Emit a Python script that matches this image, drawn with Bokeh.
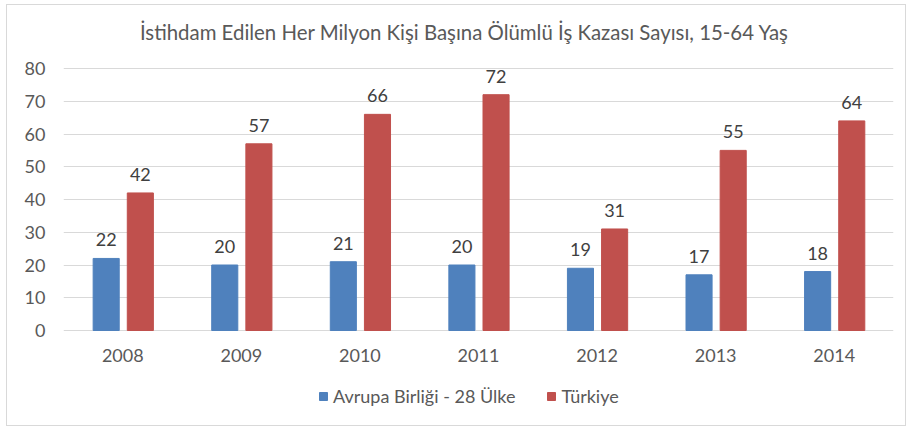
from bokeh.plotting import figure
from bokeh.models import ColumnDataSource, FactorRange, LabelSet, Label, Legend, LegendItem
from bokeh.transform import dodge
from bokeh.core.properties import value
from bokeh.embed import file_html
from bokeh.resources import INLINE

years = ["2008", "2009", "2010", "2011", "2012", "2013", "2014"]
eu28 = [22, 20, 21, 20, 19, 17, 18]
turkiye = [42, 57, 66, 72, 31, 55, 64]
series_names = ["Avrupa Birliği - 28 Ülke", "Türkiye"]
title_text = "İstihdam Edilen Her Milyon Kişi Başına Ölümlü İş Kazası Sayısı, 15-64 Yaş"
y_ticks = [0, 10, 20, 30, 40, 50, 60, 70, 80]

FONT = "Lato"
BLUE = "#4f81bd"
RED = "#c0504d"

# layout: value axis 0..80 spans 262 px; extra room above (title) and below (years, legend)
PLOT_H = 262
TOP_PAD = 63
BOT_PAD = 90
px_per_unit = PLOT_H / 80
y_lo = -BOT_PAD / px_per_unit
y_hi = 80 + TOP_PAD / px_per_unit

src = ColumnDataSource(dict(
    year=years, eu=eu28, tr=turkiye,
    eu_lbl=[str(v) for v in eu28], tr_lbl=[str(v) for v in turkiye],
))

p = figure(x_range=FactorRange(factors=years), y_range=(y_lo, y_hi),
           frame_width=830, frame_height=PLOT_H + TOP_PAD + BOT_PAD,
           output_backend="svg", toolbar_location=None,
           min_border_left=56, min_border_right=12, min_border_top=0, min_border_bottom=5)
p.margin = (5, 0, 0, 7)
p.styles = {"outline": "1px solid #d9d9d9"}

b1 = p.vbar(x=dodge("year", -0.14, range=p.x_range), top="eu", width=0.22, source=src,
            fill_color=BLUE, line_color=BLUE)
b2 = p.vbar(x=dodge("year", 0.148, range=p.x_range), top="tr", width=0.22, source=src,
            fill_color=RED, line_color=RED)

for col, lbl, off in (("eu", "eu_lbl", -0.14), ("tr", "tr_lbl", 0.148)):
    ls = LabelSet(x=dodge("year", off, range=p.x_range), y=col, text=lbl, source=src,
                  text_align="center", text_baseline="alphabetic", y_offset=12,
                  text_font=value(FONT), text_font_size="18px", text_color="#404040")
    p.add_layout(ls)

# category (year) labels under the bars
year_labels = LabelSet(x="year", y=0, text="year", source=src,
                       text_align="center", text_baseline="middle", y_offset=-24.5,
                       text_font=value(FONT), text_font_size="18px", text_color="#595959")
p.add_layout(year_labels)

title = Label(x=3.5, y=80, text=title_text, text_align="center", text_baseline="middle",
              x_offset=-14, y_offset=37, text_font=FONT, text_font_size="20.4px",
              text_color="#595959")
p.add_layout(title)

p.outline_line_color = None
p.xgrid.grid_line_color = None
p.ygrid.grid_line_color = "#d9d9d9"
p.yaxis.ticker = y_ticks
p.xaxis.visible = False
ax = p.yaxis[0]
ax.axis_line_color = None
ax.major_tick_line_color = None
ax.minor_tick_line_color = None
ax.major_tick_out = 0
ax.major_tick_in = 0
ax.minor_tick_out = 0
ax.major_label_text_font = FONT
ax.major_label_text_font_size = "18px"
ax.major_label_text_color = "#595959"
ax.major_label_standoff = 18

legend = Legend(items=[LegendItem(label=series_names[0], renderers=[b1]),
                       LegendItem(label=series_names[1], renderers=[b2])],
                orientation="horizontal", location=(255, 13),
                label_text_font=FONT, label_text_font_size="18px", label_text_color="#595959",
                glyph_width=10, glyph_height=10, label_standoff=5, spacing=31,
                padding=3, margin=0, border_line_color=None, background_fill_alpha=0)
p.add_layout(legend, "center")

open("out.html", "w").write(file_html(p, INLINE))
